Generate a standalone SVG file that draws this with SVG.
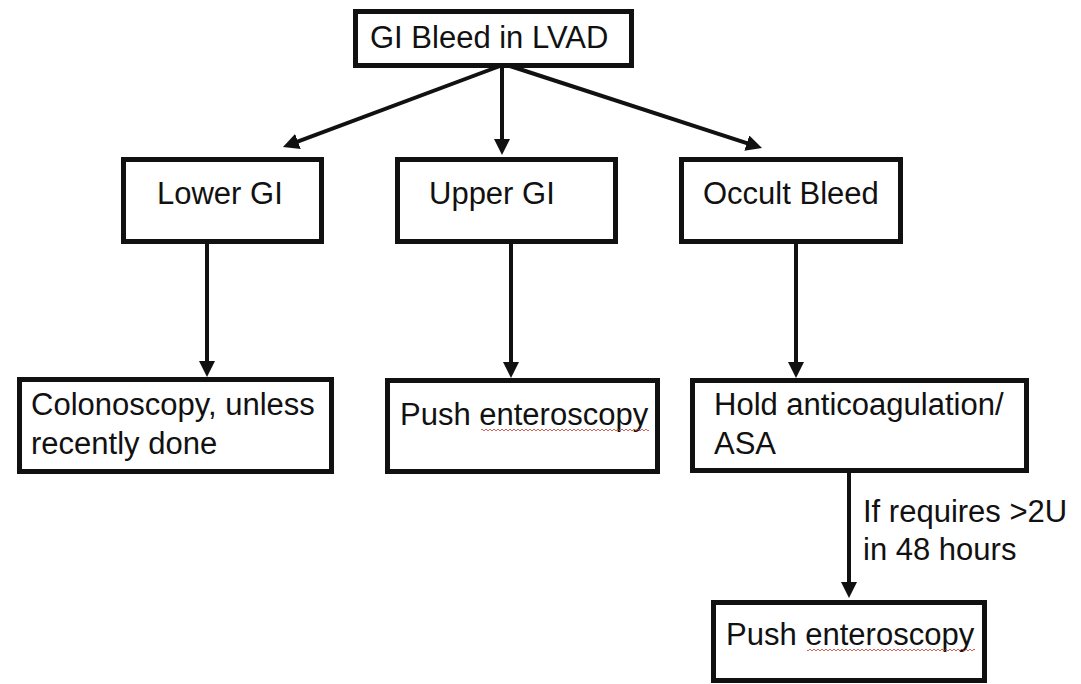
<svg xmlns="http://www.w3.org/2000/svg" width="1081" height="684" viewBox="0 0 1081 684">
<style>
.box{fill:#fff;stroke:#111;stroke-width:5}
.lbl{font-family:"Liberation Sans",Arial,sans-serif;font-size:31px;fill:#111}
.con{stroke:#111;stroke-width:4;fill:none}
</style>
<defs>
<marker id="ah" markerUnits="userSpaceOnUse" markerWidth="16" markerHeight="16" viewBox="0 0 16 16" refX="4" refY="8" orient="auto">
<path d="M0,0 L16,8 L0,16 z" fill="#111"/>
</marker>
<pattern id="squig" patternUnits="userSpaceOnUse" width="4" height="4">
<polyline points="0,3 2,1 4,3" fill="none" stroke="#c0392b" stroke-width="0.8"/>
</pattern>
</defs>
<rect width="1081" height="684" fill="#fff"/>
<g id="connectors">
<line class="con" x1="500" y1="66" x2="294.2" y2="142.8" marker-end="url(#ah)"/>
<line class="con" x1="502" y1="66" x2="502" y2="143" marker-end="url(#ah)"/>
<line class="con" x1="510" y1="66" x2="750.6" y2="144.3" marker-end="url(#ah)"/>
<line class="con" x1="207" y1="244" x2="207" y2="365" marker-end="url(#ah)"/>
<line class="con" x1="511" y1="244" x2="511" y2="366" marker-end="url(#ah)"/>
<line class="con" x1="796" y1="244" x2="796" y2="366" marker-end="url(#ah)"/>
<line class="con" x1="849" y1="473" x2="849" y2="586" marker-end="url(#ah)"/>
<text class="lbl" x="863" y="522">If requires &gt;2U</text>
<text class="lbl" x="863" y="560">in 48 hours</text>
</g>
<g id="n-top">
<rect class="box" x="355.5" y="11.5" width="276" height="54"/>
<text class="lbl" x="370" y="48">GI Bleed in LVAD</text>
</g>
<g id="n-lower">
<rect class="box" x="123.5" y="159.5" width="198" height="82"/>
<text class="lbl" x="157" y="204">Lower GI</text>
</g>
<g id="n-upper">
<rect class="box" x="397.5" y="159.5" width="218" height="82"/>
<text class="lbl" x="429" y="204">Upper GI</text>
</g>
<g id="n-occult">
<rect class="box" x="681.5" y="159.5" width="219" height="82"/>
<text class="lbl" x="703" y="204">Occult Bleed</text>
</g>
<g id="n-colon">
<rect class="box" x="19.5" y="379.5" width="312" height="92"/>
<text class="lbl" x="31" y="415">Colonoscopy, unless</text>
<text class="lbl" x="31" y="454">recently done</text>
</g>
<g id="n-push1">
<rect class="box" x="387.5" y="380.5" width="270" height="91"/>
<text class="lbl" x="400" y="425">Push enteroscopy</text>
<rect x="481" y="428" width="168" height="4" fill="url(#squig)"/>
</g>
<g id="n-hold">
<rect class="box" x="692.5" y="380.5" width="334" height="90"/>
<text class="lbl" x="714" y="415">Hold anticoagulation/</text>
<text class="lbl" x="714" y="454">ASA</text>
</g>
<g id="n-push2">
<rect class="box" x="713.5" y="602.5" width="271" height="78"/>
<text class="lbl" x="726" y="645">Push enteroscopy</text>
<rect x="807" y="648" width="168" height="4" fill="url(#squig)"/>
</g>
</svg>
